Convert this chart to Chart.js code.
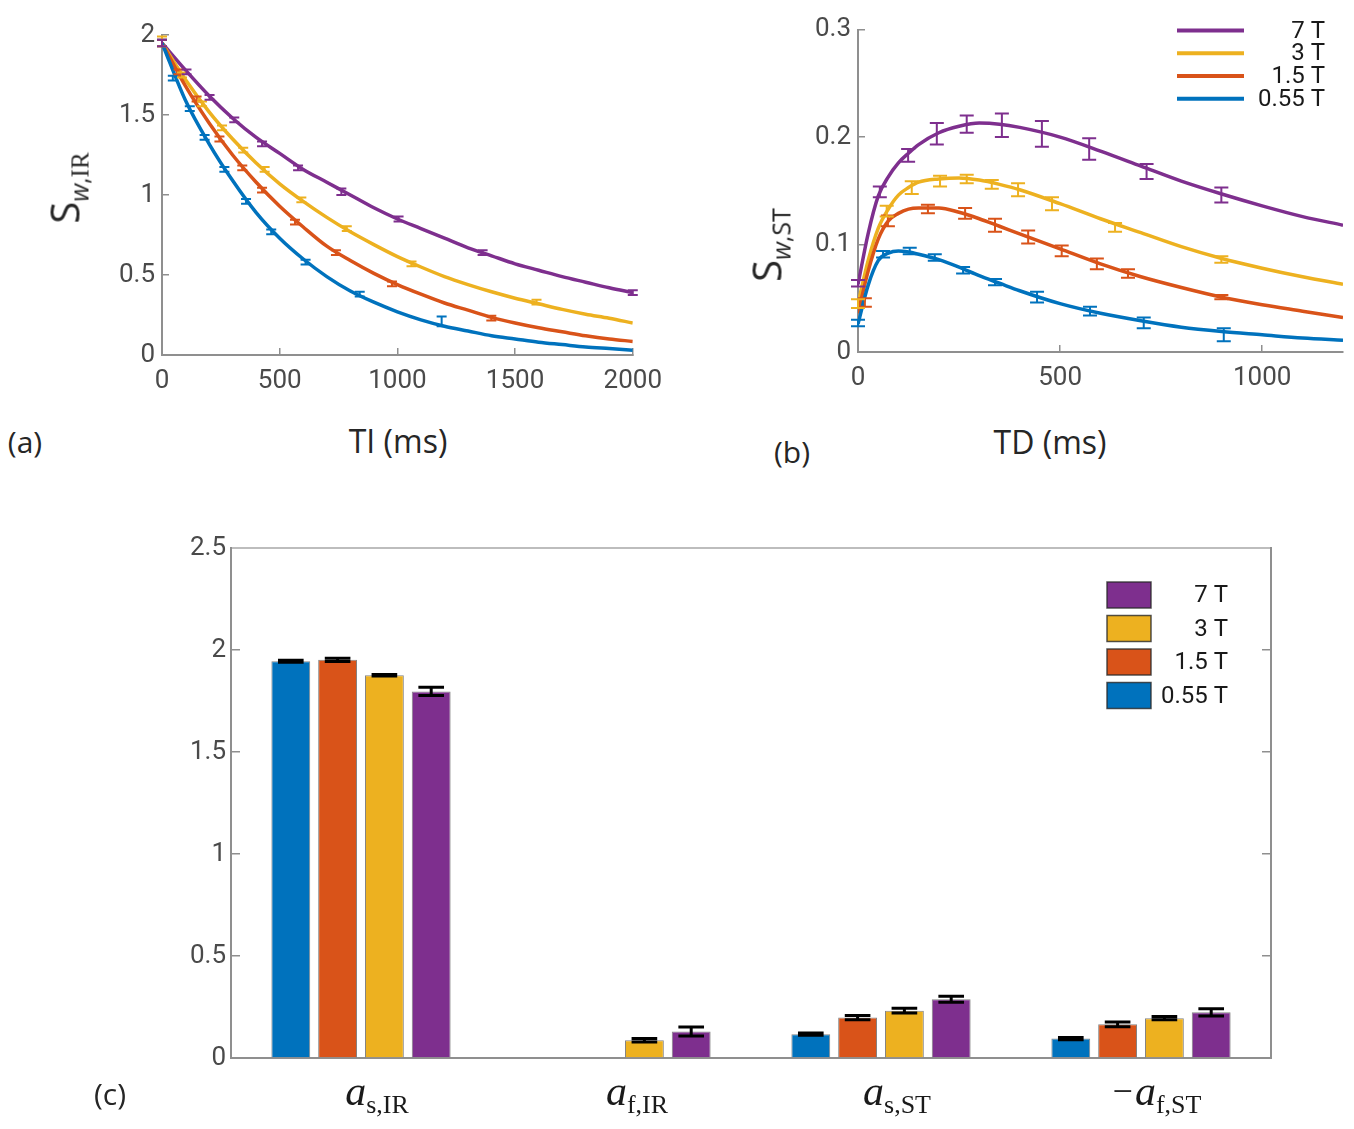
<!DOCTYPE html>
<html>
<head>
<meta charset="utf-8">
<title>IR / ST water signal</title>
<script src="https://cdn.jsdelivr.net/npm/chart.js@4.4.1/dist/chart.umd.min.js"></script>
<style>
    body { margin: 0; background: #fff; }
    #page { position: relative; width: 1354px; height: 1129px; overflow: hidden; font-family: "Open Sans", sans-serif; color: #262626; }
    canvas { position: absolute; }
    .lbl { position: absolute; white-space: nowrap; transform: translate(-50%, -50%); }
    .ytitle { position: absolute; white-space: nowrap; transform: translate(-50%, -50%) rotate(-90deg); font-size: 40px; }
    .ytitle sub { font-size: 25px; vertical-align: -9px; }
    .serif { font-family: "Liberation Serif", serif; }
</style>
</head>
<body>
<div id="page">
    <canvas id="chart-ir" width="680" height="400" style="left:0;top:0"></canvas>
    <canvas id="chart-st" width="674" height="400" style="left:680px;top:0"></canvas>
    <canvas id="chart-amp" width="1354" height="629" style="left:0;top:500px"></canvas>

    <div class="ytitle" style="left:66px;top:188px">S<sub><i>w</i>,<span class="serif">IR</span></sub></div>
    <div class="ytitle" style="left:768px;top:245px">S<sub><i>w</i>,ST</sub></div>
    <div class="lbl" style="left:398px;top:440px;font-size:32px">TI (ms)</div>
    <div class="lbl" style="left:1050px;top:441px;font-size:32px">TD (ms)</div>
    <div class="lbl" style="left:25px;top:441px;font-size:30px">(a)</div>
    <div class="lbl" style="left:792px;top:451px;font-size:30px">(b)</div>
    <div class="lbl" style="left:110px;top:1093px;font-size:30px">(c)</div>
</div>

<script>
// ---- data ----

const FIELDS = ["0.55 T", "1.5 T", "3 T", "7 T"];

// (a) inversion recovery, fitted curves sampled on TI_GRID
const TI_GRID = [0, 100, 200, 300, 400, 500, 600, 700, 800, 900, 1000, 1100, 1200, 1300, 1400, 1500, 1600, 1700, 1800, 1900, 2000];
const IR_FIT_055 = [1.95, 1.59, 1.32, 1.09, 0.89, 0.73, 0.60, 0.49, 0.40, 0.33, 0.27, 0.22, 0.18, 0.15, 0.12, 0.10, 0.08, 0.065, 0.05, 0.04, 0.03];
const IR_FIT_15 = [1.95, 1.68, 1.45, 1.25, 1.08, 0.93, 0.80, 0.68, 0.59, 0.51, 0.44, 0.38, 0.325, 0.28, 0.235, 0.20, 0.17, 0.145, 0.12, 0.10, 0.085];
const IR_FIT_3 = [1.95, 1.72, 1.52, 1.35, 1.20, 1.07, 0.96, 0.86, 0.77, 0.69, 0.615, 0.55, 0.49, 0.44, 0.395, 0.355, 0.32, 0.285, 0.255, 0.23, 0.20];
const IR_FIT_7 = [1.95, 1.78, 1.62, 1.48, 1.36, 1.26, 1.16, 1.08, 1.00, 0.92, 0.85, 0.79, 0.73, 0.67, 0.62, 0.57, 0.53, 0.49, 0.455, 0.42, 0.39];

// (a) measured points
const IR_TI_055 = [0, 46, 118, 181, 265, 357, 464, 610, 840, 1188];
const IR_S_055 = [1.95, 1.73, 1.54, 1.36, 1.16, 0.96, 0.77, 0.58, 0.38, 0.21];
const IR_E_055 = [0.02, 0.015, 0.015, 0.015, 0.015, 0.015, 0.015, 0.015, 0.015, 0.03];
const IR_TI_15 = [0, 70, 147, 244, 341, 425, 565, 739, 977, 1399];
const IR_S_15 = [1.95, 1.77, 1.60, 1.35, 1.17, 1.03, 0.83, 0.64, 0.445, 0.23];
const IR_E_15 = [0.02, 0.015, 0.015, 0.015, 0.015, 0.015, 0.015, 0.015, 0.015, 0.015];
const IR_TI_3 = [0, 85, 170, 255, 345, 436, 592, 785, 1060, 1591];
const IR_S_3 = [1.96, 1.75, 1.57, 1.42, 1.28, 1.16, 0.97, 0.79, 0.57, 0.33];
const IR_E_3 = [0.03, 0.015, 0.015, 0.015, 0.015, 0.015, 0.015, 0.015, 0.015, 0.015];
const IR_TI_7 = [0, 104, 202, 307, 425, 578, 762, 1005, 1362, 2000];
const IR_S_7 = [1.95, 1.77, 1.61, 1.47, 1.32, 1.17, 1.02, 0.85, 0.64, 0.39];
const IR_E_7 = [0.02, 0.015, 0.015, 0.015, 0.015, 0.015, 0.02, 0.015, 0.015, 0.015];

// (b) saturation transfer, fitted curves sampled on TD_GRID
const TD_GRID = [0, 25, 50, 75, 100, 125, 150, 200, 250, 300, 350, 400, 500, 600, 700, 800, 900, 1000, 1100, 1200];
const ST_FIT_055 = [0.026, 0.062, 0.085, 0.092, 0.094, 0.093, 0.091, 0.086, 0.079, 0.071, 0.064, 0.057, 0.045, 0.036, 0.029, 0.023, 0.019, 0.016, 0.013, 0.011];
const ST_FIT_15 = [0.036, 0.075, 0.105, 0.122, 0.129, 0.133, 0.134, 0.134, 0.130, 0.124, 0.117, 0.110, 0.096, 0.082, 0.070, 0.060, 0.051, 0.044, 0.038, 0.032];
const ST_FIT_3 = [0.045, 0.085, 0.115, 0.133, 0.146, 0.153, 0.158, 0.161, 0.162, 0.160, 0.156, 0.151, 0.138, 0.124, 0.111, 0.098, 0.087, 0.078, 0.070, 0.063];
const ST_FIT_7 = [0.063, 0.110, 0.145, 0.163, 0.176, 0.185, 0.193, 0.204, 0.210, 0.213, 0.212, 0.209, 0.200, 0.187, 0.173, 0.159, 0.147, 0.136, 0.126, 0.118];

// (b) measured points
const ST_TD_055 = [0, 62, 128, 190, 260, 339, 443, 574, 707, 905];
const ST_S_055 = [0.027, 0.091, 0.094, 0.088, 0.076, 0.065, 0.051, 0.038, 0.027, 0.016];
const ST_E_055 = [0.003, 0.003, 0.003, 0.003, 0.003, 0.003, 0.005, 0.004, 0.005, 0.006];
const ST_TD_15 = [17, 74, 173, 265, 339, 421, 504, 591, 668, 899];
const ST_S_15 = [0.046, 0.122, 0.133, 0.129, 0.118, 0.107, 0.094, 0.082, 0.073, 0.051];
const ST_E_15 = [0.004, 0.005, 0.004, 0.005, 0.006, 0.006, 0.005, 0.005, 0.004, 0.002];
const ST_TD_3 = [0, 71, 133, 203, 269, 331, 396, 480, 636, 899];
const ST_S_3 = [0.045, 0.131, 0.153, 0.159, 0.161, 0.156, 0.151, 0.138, 0.116, 0.086];
const ST_E_3 = [0.004, 0.005, 0.006, 0.005, 0.004, 0.004, 0.006, 0.006, 0.004, 0.003];
const ST_TD_7 = [0, 54, 124, 195, 269, 356, 455, 572, 714, 899];
const ST_S_7 = [0.064, 0.149, 0.183, 0.203, 0.212, 0.211, 0.203, 0.189, 0.168, 0.146];
const ST_E_7 = [0.003, 0.005, 0.006, 0.010, 0.008, 0.011, 0.012, 0.010, 0.007, 0.007];

// tick values shown on the axes
const IR_X_TICKS = [0, 500, 1000, 1500, 2000];
const IR_Y_TICKS = [0, 0.5, 1, 1.5, 2];
const ST_X_TICKS = [0, 500, 1000];
const ST_Y_TICKS = [0, 0.1, 0.2, 0.3];
const AMP_Y_TICKS = [0, 0.5, 1, 1.5, 2, 2.5];

// (c) fitted amplitudes
const AMP_CATEGORIES = ["a_s,IR", "a_f,IR", "a_s,ST", "-a_f,ST"];
const AMP_055 = [1.945, null, 0.117, 0.095];
const AMP_15 = [1.952, null, 0.198, 0.165];
const AMP_3 = [1.876, 0.087, 0.232, 0.195];
const AMP_7 = [1.797, 0.130, 0.288, 0.224];
const AMP_E_055 = [0.005, 0, 0.006, 0.005];
const AMP_E_15 = [0.008, 0, 0.010, 0.012];
const AMP_E_3 = [0.004, 0.008, 0.012, 0.008];
const AMP_E_7 = [0.020, 0.022, 0.015, 0.018];

// ---- drawing ----

let figureCharts = {
    COLORS: ["#0072BD", "#D95319", "#EDB120", "#7E2F8E"],
    AXIS_GRAY: "#8f8f8f",
    TICK_COLOR: "#4a4a4a",
    TICK_FONT: {family: "Roboto", size: 26},
    charts: {}
}

/**
 * pairs x and y arrays into {x, y} points
 */
figureCharts.toPoints = function (xs, ys) {
    return xs.map(function (x, i) { return {x: x, y: ys[i]}; });
}

/**
 * draws vertical error bars with caps for every dataset that has an "errs" array
 */
figureCharts.errorBarPlugin = {
    id: "errorBars",
    afterDatasetsDraw: function (chart) {
        const ctx = chart.ctx;
        const yScale = chart.scales.y;
        chart.data.datasets.forEach(function (ds, di) {
            if (!ds.errs) {
                return;
            }
            const meta = chart.getDatasetMeta(di);
            ctx.save();
            ctx.strokeStyle = ds.errColor || ds.borderColor;
            ctx.lineWidth = ds.errWidth || 2;
            meta.data.forEach(function (el, i) {
                let v = ds.data[i];
                if (v === null || v === undefined) {
                    return;
                }
                if (typeof v === "object") {
                    v = v.y;
                }
                const e = ds.errs[i];
                const x = el.x;
                const top = yScale.getPixelForValue(v + e);
                const bottom = yScale.getPixelForValue(v - e);
                const half = ds.capHalf || (el.width ? el.width * 0.33 : 6);
                ctx.beginPath();
                ctx.moveTo(x, top);
                ctx.lineTo(x, bottom);
                ctx.moveTo(x - half, top);
                ctx.lineTo(x + half, top);
                ctx.moveTo(x - half, bottom);
                ctx.lineTo(x + half, bottom);
                ctx.stroke();
            });
            ctx.restore();
        });
    }
}

/**
 * common linear axis settings, fixed tick values, ticks point into the plot like in MATLAB
 */
figureCharts.axis = function (min, max, tickValues, extra) {
    return Object.assign({
        type: "linear",
        min: min,
        max: max,
        afterBuildTicks: function (scale) {
            scale.ticks = tickValues.map(function (v) { return {value: v}; });
        },
        ticks: {
            color: figureCharts.TICK_COLOR,
            font: figureCharts.TICK_FONT,
            padding: 14,
            callback: function (value) { return String(Math.round(value * 1000) / 1000); }
        },
        grid: {drawOnChartArea: false, tickLength: -7, color: figureCharts.AXIS_GRAY, lineWidth: 1.5},
        border: {color: figureCharts.AXIS_GRAY, width: 2}
    }, extra);
}

/**
 * builds the fit line + the measured points for one field strength
 */
figureCharts.curveDatasets = function (grid, fit, xs, ys, errs, color, capHalf) {
    return [{
        data: figureCharts.toPoints(grid, fit),
        borderColor: color,
        borderWidth: 3.5,
        pointRadius: 0,
        cubicInterpolationMode: "monotone",
        order: 2
    }, {
        data: figureCharts.toPoints(xs, ys),
        borderColor: color,
        showLine: false,
        pointRadius: 0,
        errs: errs,
        errWidth: 2,
        capHalf: capHalf,
        order: 1
    }];
}

/**
 * panel (a): inversion recovery
 */
figureCharts.initIR = function () {
    const c = figureCharts.COLORS;
    let datasets = [].concat(
        figureCharts.curveDatasets(TI_GRID, IR_FIT_055, IR_TI_055, IR_S_055, IR_E_055, c[0], 5),
        figureCharts.curveDatasets(TI_GRID, IR_FIT_15, IR_TI_15, IR_S_15, IR_E_15, c[1], 5),
        figureCharts.curveDatasets(TI_GRID, IR_FIT_3, IR_TI_3, IR_S_3, IR_E_3, c[2], 5),
        figureCharts.curveDatasets(TI_GRID, IR_FIT_7, IR_TI_7, IR_S_7, IR_E_7, c[3], 5)
    );
    let xAxis = figureCharts.axis(0, 2000, IR_X_TICKS, {afterFit: function (s) { s.height = 45; }});
    xAxis.ticks.padding = 18;
    let yAxis = figureCharts.axis(0, 2, IR_Y_TICKS, {afterFit: function (s) { s.width = 162; }});
    figureCharts.charts.ir = new Chart(document.getElementById("chart-ir"), {
        type: "line",
        data: {datasets: datasets},
        options: {
            responsive: false,
            animation: false,
            layout: {padding: {left: 0, top: 35, right: 43, bottom: 0}},
            plugins: {legend: {display: false}, tooltip: {enabled: false}},
            scales: {x: xAxis, y: yAxis}
        },
        plugins: [figureCharts.errorBarPlugin]
    });
}

/**
 * legend of panel (b): coloured line samples, right aligned labels
 */
figureCharts.lineLegendPlugin = {
    id: "lineLegend",
    afterDraw: function (chart) {
        const ctx = chart.ctx;
        const area = chart.chartArea;
        ctx.save();
        ctx.font = "24px Roboto";
        ctx.textAlign = "right";
        ctx.textBaseline = "middle";
        for (let k = 0; k < FIELDS.length; k++) {
            const idx = FIELDS.length - 1 - k;
            const y = area.top + 1 + k * 22.7;
            ctx.strokeStyle = figureCharts.COLORS[idx];
            ctx.lineWidth = 4;
            ctx.beginPath();
            ctx.moveTo(area.right - 166, y);
            ctx.lineTo(area.right - 99, y);
            ctx.stroke();
            ctx.fillStyle = "#1a1a1a";
            ctx.fillText(FIELDS[idx], area.right - 18, y + 1);
        }
        ctx.restore();
    }
}

/**
 * panel (b): saturation transfer
 */
figureCharts.initST = function () {
    const c = figureCharts.COLORS;
    let datasets = [].concat(
        figureCharts.curveDatasets(TD_GRID, ST_FIT_055, ST_TD_055, ST_S_055, ST_E_055, c[0], 7),
        figureCharts.curveDatasets(TD_GRID, ST_FIT_15, ST_TD_15, ST_S_15, ST_E_15, c[1], 7),
        figureCharts.curveDatasets(TD_GRID, ST_FIT_3, ST_TD_3, ST_S_3, ST_E_3, c[2], 7),
        figureCharts.curveDatasets(TD_GRID, ST_FIT_7, ST_TD_7, ST_S_7, ST_E_7, c[3], 7)
    );
    let xAxis = figureCharts.axis(0, 1200, ST_X_TICKS, {afterFit: function (s) { s.height = 48; }});
    xAxis.ticks.padding = 18;
    let yAxis = figureCharts.axis(0, 0.3, ST_Y_TICKS, {afterFit: function (s) { s.width = 178; }});
    figureCharts.charts.st = new Chart(document.getElementById("chart-st"), {
        type: "line",
        data: {datasets: datasets},
        options: {
            responsive: false,
            animation: false,
            layout: {padding: {left: 0, top: 28, right: 11, bottom: 0}},
            plugins: {legend: {display: false}, tooltip: {enabled: false}},
            scales: {x: xAxis, y: yAxis}
        },
        plugins: [figureCharts.errorBarPlugin, figureCharts.lineLegendPlugin]
    });
}

/**
 * legend of panel (c): outlined colour boxes, right aligned labels
 */
figureCharts.boxLegendPlugin = {
    id: "boxLegend",
    afterDraw: function (chart) {
        const ctx = chart.ctx;
        const area = chart.chartArea;
        ctx.save();
        ctx.font = "24px Roboto";
        ctx.textAlign = "right";
        ctx.textBaseline = "middle";
        for (let k = 0; k < FIELDS.length; k++) {
            const idx = FIELDS.length - 1 - k;
            const top = area.top + 34 + k * 33.5;
            ctx.fillStyle = figureCharts.COLORS[idx];
            ctx.fillRect(area.right - 164, top, 44, 26);
            ctx.strokeStyle = "rgba(40,40,40,0.8)";
            ctx.lineWidth = 1.5;
            ctx.strokeRect(area.right - 164, top, 44, 26);
            ctx.fillStyle = "#1a1a1a";
            ctx.fillText(FIELDS[idx], area.right - 43, top + 14);
        }
        ctx.restore();
    }
}

/**
 * category labels of panel (c): italic a with subscripts
 */
figureCharts.mathLabelPlugin = {
    id: "mathLabels",
    afterDraw: function (chart) {
        const ctx = chart.ctx;
        const xScale = chart.scales.x;
        const baseY = chart.chartArea.bottom + 47;
        ctx.save();
        ctx.fillStyle = "#1a1a1a";
        ctx.textBaseline = "alphabetic";
        AMP_CATEGORIES.forEach(function (label, i) {
            const neg = label.charAt(0) === "-";
            const parts = label.replace("-", "").split("_");
            const mainFont = "italic 42px 'Liberation Serif'";
            const subFont = "26px 'Liberation Serif'";
            const signFont = "36px 'Liberation Serif'";
            ctx.font = signFont;
            const wSign = neg ? ctx.measureText("\u2212").width + 2 : 0;
            ctx.font = mainFont;
            const wMain = ctx.measureText(parts[0]).width;
            ctx.font = subFont;
            const wSub = ctx.measureText(parts[1]).width;
            let x = xScale.getPixelForTick(i) + 16 - (wSign + wMain + wSub) / 2;
            ctx.textAlign = "left";
            if (neg) {
                ctx.font = signFont;
                ctx.fillText("\u2212", x, baseY - 2);
                x += wSign;
            }
            ctx.font = mainFont;
            ctx.fillText(parts[0], x, baseY);
            x += wMain;
            ctx.font = subFont;
            ctx.fillText(parts[1], x, baseY + 8);
        });
        ctx.restore();
    }
}

/**
 * panel (c): grouped bars of the fitted amplitudes
 */
figureCharts.initAmp = function () {
    const c = figureCharts.COLORS;
    const values = [AMP_055, AMP_15, AMP_3, AMP_7];
    const errs = [AMP_E_055, AMP_E_15, AMP_E_3, AMP_E_7];
    let datasets = [];
    for (let k = 0; k < FIELDS.length; k++) {
        datasets.push({
            label: FIELDS[k],
            data: values[k],
            backgroundColor: c[k],
            borderColor: "rgba(30,30,30,0.55)",
            borderWidth: 1,
            errs: errs[k],
            errColor: "#000",
            errWidth: 3,
            categoryPercentage: 0.72,
            barPercentage: 0.83
        });
    }
    let yAxis = figureCharts.axis(0, 2.5, AMP_Y_TICKS, {afterFit: function (s) { s.width = 231; }});
    yAxis.grid.tickLength = -9;
    let y2Axis = figureCharts.axis(0, 2.5, AMP_Y_TICKS, {position: "right", afterFit: function (s) { s.width = 0; }});
    y2Axis.grid.tickLength = -9;
    y2Axis.ticks.display = false;
    figureCharts.charts.amp = new Chart(document.getElementById("chart-amp"), {
        type: "bar",
        data: {labels: AMP_CATEGORIES, datasets: datasets},
        options: {
            responsive: false,
            animation: false,
            layout: {padding: {left: 0, top: 48, right: 83, bottom: 0}},
            plugins: {legend: {display: false}, tooltip: {enabled: false}},
            scales: {
                x: {
                    type: "category",
                    ticks: {display: false},
                    grid: {display: false},
                    border: {color: figureCharts.AXIS_GRAY, width: 2},
                    afterFit: function (s) { s.height = 71; }
                },
                x2: {
                    type: "linear",
                    position: "top",
                    min: 0,
                    max: 1,
                    ticks: {display: false},
                    grid: {display: false},
                    border: {color: "#bdbdbd", width: 2},
                    afterFit: function (s) { s.height = 0; }
                },
                y: yAxis,
                y2: y2Axis
            }
        },
        plugins: [figureCharts.errorBarPlugin, figureCharts.boxLegendPlugin, figureCharts.mathLabelPlugin]
    });
}

figureCharts.initIR();
figureCharts.initST();
figureCharts.initAmp();
</script>
</body>
</html>
